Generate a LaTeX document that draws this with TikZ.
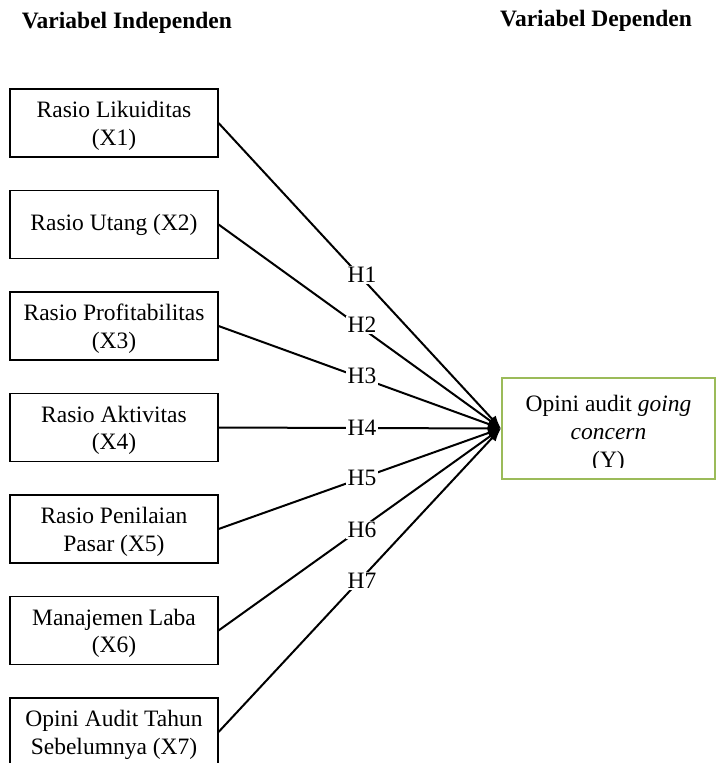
\documentclass[tikz,border=0pt]{standalone}
\usepackage{fontspec}
\setmainfont{Liberation Serif}
\usetikzlibrary{arrows.meta}
\definecolor{ygreen}{HTML}{9BBB59}
\newcommand{\toppad}{\rule{0pt}{22pt}}
\begin{document}
\begin{tikzpicture}[x=1pt,y=-1pt,
  txt/.style={font=\fontsize{23.5}{27.5}\selectfont},
  xbox/.style={txt, draw, line width=1.1pt, minimum width=208pt, minimum height=68pt, align=center, inner sep=0pt},
  ybox/.style={draw=ygreen, line width=2.2pt, minimum width=213pt, minimum height=101pt, inner sep=0pt},
  conn/.style={line width=2pt, -{Latex[length=13pt,width=10pt]}},
  hlab/.style={txt, fill=white, inner sep=1.5pt},
  head/.style={font=\fontsize{23.5}{27.5}\selectfont\bfseries, inner sep=0pt, anchor=base west}]
\useasboundingbox (0,0) rectangle (722,763);
\clip (0,0) rectangle (722,763);
\node[head] (hi) at (21.7,28.3) {Variabel Independen};
\node[head] (hd) at (500,26) {Variabel Dependen};
\node[xbox] (X1) at (114,123) {\toppad Rasio Likuiditas\\(X1)};
\node[xbox] (X2) at (114,224.5) {Rasio Utang (X2)};
\node[xbox] (X3) at (114,326) {\toppad Rasio Profitabilitas\\(X3)};
\node[xbox] (X4) at (114,427.5) {\toppad Rasio Aktivitas\\(X4)};
\node[xbox] (X5) at (114,529) {\toppad Rasio Penilaian\\Pasar (X5)};
\node[xbox] (X6) at (114,630.5) {\toppad Manajemen Laba\\(X6)};
\node[xbox] (X7) at (114,732) {\toppad Opini Audit Tahun\\Sebelumnya (X7)};
\node[ybox] (Y) at (608.5,428.5) {};
\begin{scope}
\clip (503,379) rectangle (714,467.5);
\node[txt, align=center, font=\fontsize{23.5}{28}\selectfont] (yt) at (608.5,434) {Opini audit \textit{going}\\\textit{concern}\\(Y)};
\end{scope}
\foreach \i in {1,...,7} {\draw[conn] (X\i.east) -- (Y.west);}
\node[hlab] (h1) at (362,275) {H1};
\node[hlab] (h2) at (362,325) {H2};
\node[hlab] (h3) at (362,376) {H3};
\node[hlab] (h4) at (362,428) {H4};
\node[hlab] (h5) at (362,478) {H5};
\node[hlab] (h6) at (362,530) {H6};
\node[hlab] (h7) at (362,581) {H7};
\end{tikzpicture}
\end{document}
